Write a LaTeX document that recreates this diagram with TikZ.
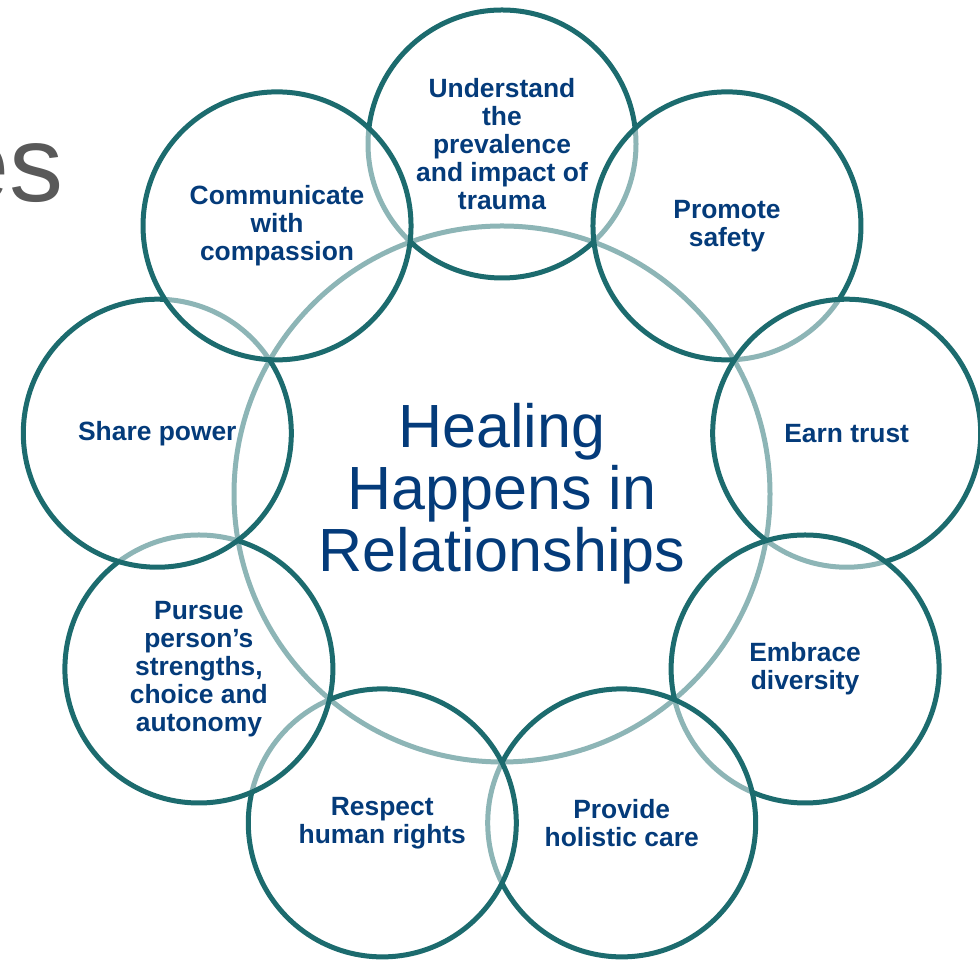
\documentclass[tikz,border=0pt]{standalone}
\usepackage{fontspec}
\setmainfont{Liberation Sans}
\usetikzlibrary{calc}
\definecolor{ringTeal}{RGB}{28,107,110}
\definecolor{labelBlue}{RGB}{4,59,122}
\definecolor{titleGrey}{RGB}{89,89,89}

\begin{document}
\begin{tikzpicture}
[x=0.5pt,y=0.5pt,%
  hubDecorate/.style={shape=circle,minimum size=268pt,inner sep=0pt,draw=ringTeal,line width=2.5pt,
    fill=white,fill opacity=0.5,text opacity=1,text=labelBlue,align=center,
    font=\fontsize{30.5}{31}\selectfont},%
  petalDecorate/.style={shape=circle,minimum size=134pt,inner sep=0pt,draw=ringTeal,line width=2.5pt,
    fill=white,fill opacity=0.5,text opacity=1,text=labelBlue,align=center,
    font=\bfseries\fontsize{13.2}{14}\selectfont}]
\useasboundingbox (0,0) rectangle (980,963);
\clip (0,0) rectangle (980,963);
%% what is left of the slide title
\node (title) at (64,761) [anchor=base east,inner sep=0pt,text=titleGrey,font=\fontsize{54}{54}\selectfont] {es};
%% hub
\node (healing) at (502,469) [hubDecorate] {Healing\\Happens in\\Relationships};
%% petals, clockwise from the top (each one lies over the one before)
\foreach \nodename/\angle/\txt in {understand/90/{Understand\\the\\prevalence\\and impact of\\trauma},
  promote/50/{Promote\\safety}, trust/10/{Earn trust}, diversity/-30/{Embrace\\diversity},
  care/-70/{Provide\\holistic care}, rights/-110/{Respect\\human rights},
  pursue/-150/{Pursue\\person’s\\strengths,\\choice and\\autonomy}, power/170/{Share power},
  compassion/130/{Communicate\\with\\compassion}}
{
  \node (\nodename) at ($(healing)+(\angle:350)$) [petalDecorate] {\txt};
}
\end{tikzpicture}
\end{document}
